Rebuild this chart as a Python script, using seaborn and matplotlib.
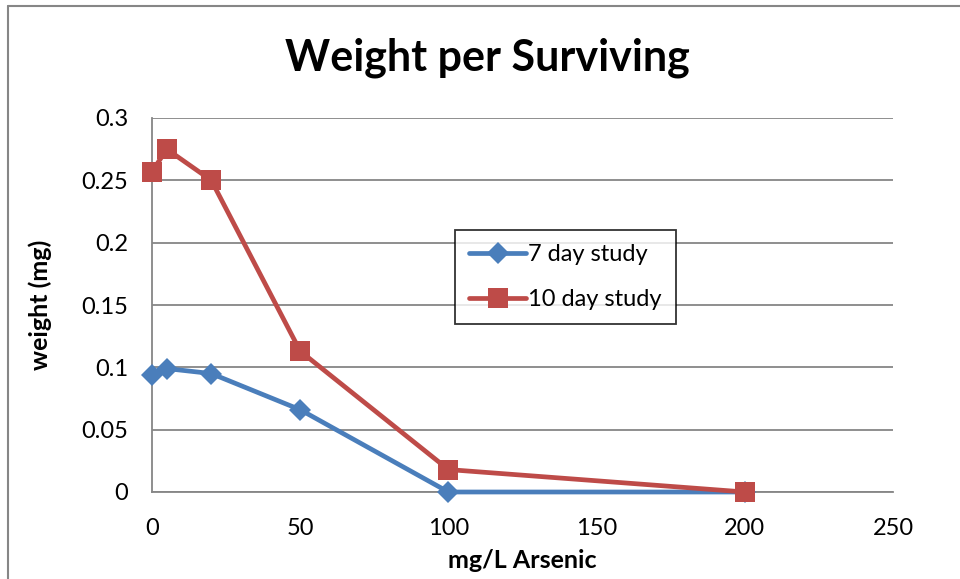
import matplotlib
matplotlib.use("Agg")
import matplotlib.pyplot as plt
import seaborn as sns
import pandas as pd
from matplotlib.lines import Line2D

conc_7 = [0, 5, 20, 50, 100, 200]
weight_7 = [0.094, 0.099, 0.095, 0.066, 0.0, 0.0]
conc_10 = [0, 5, 20, 50, 100, 200]
weight_10 = [0.257, 0.275, 0.250, 0.113, 0.018, 0.0]
series_names = ["7 day study", "10 day study"]
x_ticks = [0, 50, 100, 150, 200, 250]
y_ticks = [0, 0.05, 0.1, 0.15, 0.2, 0.25, 0.3]
y_tick_labels = ["0", "0.05", "0.1", "0.15", "0.2", "0.25", "0.3"]

df = pd.DataFrame({
    "conc": conc_7 + conc_10,
    "weight": weight_7 + weight_10,
    "series": [series_names[0]] * len(conc_7) + [series_names[1]] * len(conc_10),
})

sns.set_style("white")
plt.rcParams["font.family"] = ["Lato", "DejaVu Sans"]
plt.rcParams["text.color"] = "black"

W, H = 960, 579
fig = plt.figure(figsize=(W / 100, H / 100), dpi=100)
ax = fig.add_axes([152 / W, (H - 492) / H, (893 - 152) / W, (492 - 118) / H])

colors = {"7 day study": "#4A7EBB", "10 day study": "#BE4B48"}
markers = {"7 day study": "D", "10 day study": "s"}
sizes = {"7 day study": 11, "10 day study": 14}
for name in series_names:
    sub = df[df["series"] == name]
    sns.lineplot(data=sub, x="conc", y="weight", ax=ax, color=colors[name],
                 marker=markers[name], markersize=sizes[name], markeredgewidth=0,
                 linewidth=3.4, label=name, clip_on=False, zorder=3)

ax.set_xlim(0, 250)
ax.set_ylim(0, 0.3)
ax.set_xticks(x_ticks)
ax.set_xticklabels([str(t) for t in x_ticks])
ax.set_yticks(y_ticks)
ax.set_yticklabels(y_tick_labels)
ax.tick_params(axis="both", length=0, labelsize=17, colors="black")
ax.tick_params(axis="x", pad=19)
ax.tick_params(axis="y", pad=17)
ax.grid(axis="y", color="#868686", linewidth=1.3)
ax.grid(axis="x", visible=False)
for s in ["top", "right"]:
    ax.spines[s].set_visible(False)
for s in ["left", "bottom"]:
    ax.spines[s].set_color("#868686")
    ax.spines[s].set_linewidth(1.3)

ax.set_xlabel("mg/L Arsenic", fontsize=18, fontweight="bold", color="black", va="center")
ax.set_ylabel("weight (mg)", fontsize=18, fontweight="bold", color="black", va="center")
ax.xaxis.set_label_coords((522 - 152) / 741, (492 - 560) / 374)
ax.yaxis.set_label_coords((40 - 152) / 741, (492 - 305) / 374)
fig.text(487 / W, 1 - 58 / H, "Weight per Surviving", fontsize=31, fontweight="bold",
         ha="center", va="center", color="black")

leg = ax.legend(loc="upper left", bbox_to_anchor=((455 - 152) / 741, (492 - 230) / 374),
                frameon=True, fancybox=False, fontsize=17, handlelength=2.4,
                handletextpad=0.1, borderpad=0.6, labelspacing=1.0, borderaxespad=0)
leg.get_frame().set_edgecolor("black")
leg.get_frame().set_linewidth(1.3)

fig.add_artist(Line2D([7.5 / W, 7.5 / W], [0, 1 - 5.5 / H], transform=fig.transFigure,
                      color="#868686", linewidth=1.5))
fig.add_artist(Line2D([7.5 / W, 1], [1 - 5.5 / H, 1 - 5.5 / H], transform=fig.transFigure,
                      color="#868686", linewidth=1.5))

fig.savefig("out.png", dpi=100, facecolor="white")
